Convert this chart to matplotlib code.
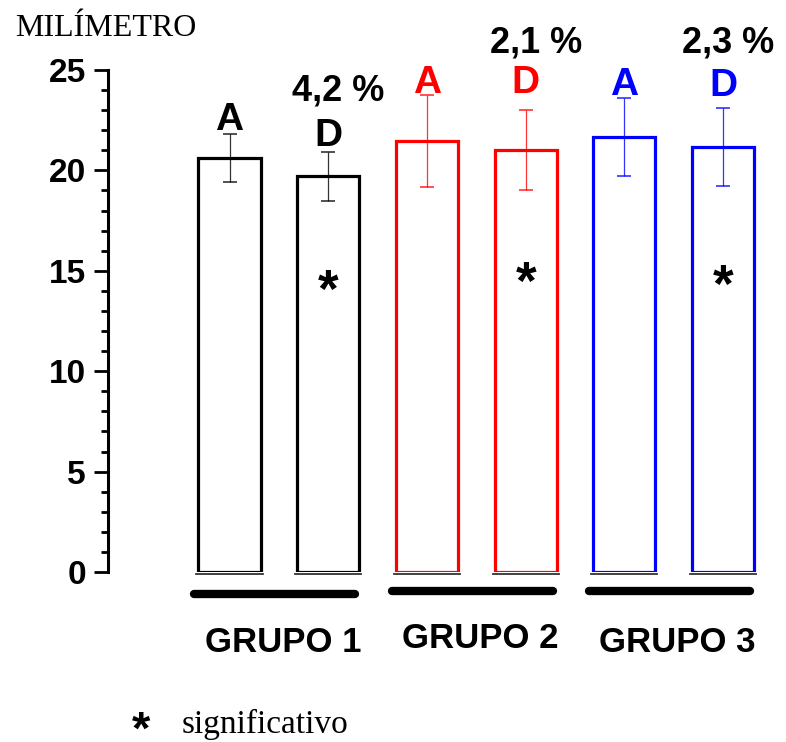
import numpy as np
import matplotlib.pyplot as plt

# datos (mm)
medias = [20.6, 19.7, 21.45, 21.0, 21.65, 21.15]
errores = [1.2, 1.2, 2.3, 2.0, 1.95, 1.95]
colores = ['black', 'black', 'red', 'red', 'blue', 'blue']
letras = ['A', 'D', 'A', 'D', 'A', 'D']
grupos = ['GRUPO 1', 'GRUPO 2', 'GRUPO 3']
porcentajes = ['4,2 %', '2,1 %', '2,3 %']

bold = dict(family='Liberation Sans', weight='bold')
serif = dict(family='Liberation Serif')

fig = plt.figure(figsize=(7.86, 7.42), dpi=100)
ax = fig.add_axes([108/786, 170/742, 678/786, 502/742])

x = np.arange(len(medias))
ancho = 0.63
for i in range(len(medias)):
    ax.bar(x[i], medias[i], width=ancho, color='white', edgecolor=colores[i],
           linewidth=2.3, zorder=2)
    ax.errorbar(x[i], medias[i], yerr=errores[i], color=colores[i], lw=0.9,
                capsize=5, capthick=1.2, alpha=0.8, zorder=3)
    # linea bajo cada barra
    ax.plot([x[i] - ancho/2 - 0.02, x[i] + ancho/2 + 0.02], [-0.1, -0.1],
            color='#333333', lw=1.3, clip_on=False, zorder=4)

# letras A / D
ya = [22.0, 21.2, 23.85, 23.85, 23.75, 23.7]
for i in range(len(medias)):
    ax.text(x[i], ya[i], letras[i], color=colores[i], fontsize=28,
            ha='center', va='baseline', clip_on=False, **bold)

# porcentajes
xp = [1.1, 3.11, 5.05]
yp = [23.5, 25.85, 25.85]
for k in range(3):
    ax.text(xp[k], yp[k], porcentajes[k], fontsize=26, ha='center',
            va='baseline', clip_on=False, **bold)

# asteriscos de significancia
ys = [13.9, 14.3, 14.15]
for k, i in enumerate([1, 3, 5]):
    ax.text(x[i], ys[k], '*', fontsize=38, ha='center', va='center', **bold)

# barras de grupo
yg = [-1.1, -0.95, -0.95]
ylab = [-3.98, -3.78, -3.98]
for k in range(3):
    a, b = x[2*k] - ancho/2 - 0.04, x[2*k+1] + ancho/2 - 0.04
    ax.plot([a, b], [yg[k], yg[k]], color='black', lw=6,
            solid_capstyle='round', clip_on=False)
    ax.text((x[2*k] + x[2*k+1]) / 2 + 0.04, ylab[k], grupos[k], fontsize=25,
            ha='center', va='baseline', clip_on=False, **bold)

ax.set_xlim(-1.231, 5.638)
ax.set_ylim(0, 25)
ax.set_yticks([0, 5, 10, 15, 20, 25])
ax.set_yticks(np.arange(0, 26, 1), minor=True)
ax.set_yticklabels(['0', '5', '10', '15', '20', '25'], fontsize=24, **bold)
ax.tick_params(axis='y', which='major', length=10, width=2, pad=6)
ax.tick_params(axis='y', which='minor', length=5, width=2)
ax.set_xticks([])
for s in ['top', 'right', 'bottom']:
    ax.spines[s].set_visible(False)
ax.spines['left'].set_linewidth(2.2)

fig.text(15/786, 1 - 36/742, 'MILÍMETRO', fontsize=23, ha='left',
         va='baseline', **serif)
# leyenda: la caja del texto queda un poco bajo el borde, el glifo no
fig.text(141/786, 1 - 732/742, '*', fontsize=34, ha='center', va='center', **bold)
fig.text(182/786, 1 - 733/742, 'significativo', fontsize=24, ha='left',
         va='baseline', **serif)

fig.savefig('out.png', dpi=100)
